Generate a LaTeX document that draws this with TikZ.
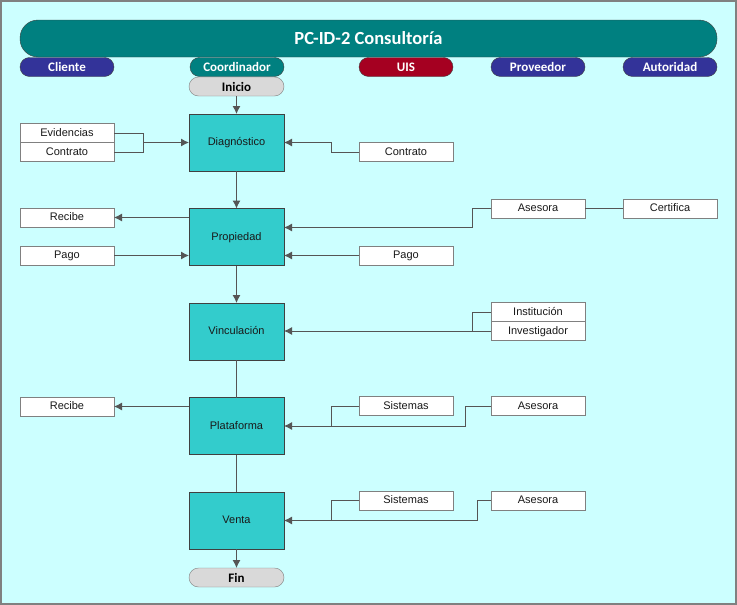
\documentclass[tikz,border=0pt]{standalone}
\usepackage{fontspec}
\setmainfont{Liberation Sans}
\newfontfamily\headfont{Carlito}
\usetikzlibrary{arrows.meta, positioning}
\definecolor{bgcyan}{HTML}{CCFFFF}
\definecolor{titleteal}{HTML}{008080}
\definecolor{procfill}{HTML}{33CCCC}
\definecolor{laneblue}{HTML}{333399}
\definecolor{lanered}{HTML}{A50021}
\definecolor{termgray}{HTML}{D9D9D9}
\definecolor{edgegray}{HTML}{404040}
\definecolor{linegray}{HTML}{555555}
\tikzstyle{block} = [rectangle, inner sep=1pt, outer sep=0pt, text=black!90, text height=8pt, text depth=2pt, font=\fontsize{11}{13}\selectfont]
\tikzstyle{process} = [block, draw=edgegray, fill=procfill, minimum width=95pt, minimum height=57pt]
\tikzstyle{data} = [block, draw=gray, fill=white, minimum width=94pt, minimum height=19pt]
\tikzstyle{lane} = [rectangle, rounded corners=9.5pt, draw=edgegray, minimum width=94pt, minimum height=19pt, inner sep=0pt, outer sep=0pt, text=white, font=\headfont\bfseries\fontsize{13}{15}\selectfont]
\tikzstyle{terminal} = [lane, fill=termgray, draw=gray, text=black, minimum width=95pt]
\tikzstyle{flow} = [-{Latex[length=8pt, width=8pt]}, draw=linegray, line width=1pt]
\tikzstyle{link} = [draw=linegray, line width=1pt]

\begin{document}
\begin{tikzpicture}[x=1pt, y=-1pt, node distance=37.5pt]
    \useasboundingbox (0,0) rectangle (737,605);
    \fill [bgcyan] (0,0) rectangle (737,605);
    \draw [gray, line width=1.5pt] (1,1) rectangle (736,604);

    % Header and lanes.
    \node (title) [lane, fill=titleteal, minimum width=697pt, minimum height=37pt, rounded corners=18pt,
        font=\headfont\bfseries\fontsize{18.5}{22}\selectfont] at (368.5,38.5) {PC-ID-2 Consultoría};
    \node (cliente) [lane, fill=laneblue] at (67,67) {Cliente};
    \node (coord) [lane, fill=titleteal] at (237,67) {Coordinador};
    \node (uis) [lane, fill=lanered] at (406,67) {UIS};
    \node (prov) [lane, fill=laneblue] at (538,67) {Proveedor};
    \node (autor) [lane, fill=laneblue] at (670,67) {Autoridad};

    % Main flow.
    \node (inicio) [terminal] at (236.5,86.5) {Inicio};
    \node (diag) [process, below=18pt of inicio] {Diagnóstico};
    \node (prop) [process, below=of diag] {Propiedad};
    \node (vinc) [process, below=of prop] {Vinculación};
    \node (plat) [process, below=of vinc] {Plataforma};
    \node (venta) [process, below=of plat] {Venta};
    \node (fin) [terminal, below=19pt of venta] {Fin};

    % Documents.
    \node (evid) [data] at (67,133) {Evidencias};
    \node (contr l) [data, below=0pt of evid] {Contrato};
    \node (contr r) [data] at (406,152) {Contrato};
    \node (recibe a) [data] at (67,217.5) {Recibe};
    \node (pago l) [data] at (67,255.5) {Pago};
    \node (ases a) [data] at (538,208.5) {Asesora};
    \node (certif) [data] at (670,208.5) {Certifica};
    \node (pago r) [data] at (406,255.5) {Pago};
    \node (inst) [data] at (538,312) {Institución};
    \node (invest) [data, below=0pt of inst] {Investigador};
    \node (recibe b) [data] at (67,406.5) {Recibe};
    \node (sist a) [data] at (406,406) {Sistemas};
    \node (ases b) [data] at (538,406) {Asesora};
    \node (sist b) [data] at (406,500.5) {Sistemas};
    \node (ases c) [data] at (538,500.5) {Asesora};
    \path (diag.west) ++(-46,0) coordinate (join d);
    \path (plat.east) ++(47,0) coordinate (join p);
    \path (venta.east) ++(47,0) coordinate (join v);

    % Arrows.
    \draw [flow] (inicio) -- (diag);
    \draw [flow] (diag) -- (prop);
    \draw [flow] (prop) -- (vinc);
    \draw [link] (vinc) -- (plat);
    \draw [link] (plat) -- (venta);
    \draw [flow] (venta) -- (fin);
    \draw [link] (evid.east) -| (join d);
    \draw [link] (contr l.east) -| (join d);
    \draw [flow] (join d) -- (diag.west);
    \draw [flow] (contr r.west) -- ++(-28,0) |- (diag.east);
    \draw [flow] (recibe a -| prop.west) -- (recibe a.east);
    \draw [flow] (pago l.east) -- (pago l -| prop.west);
    \draw [link] (ases a) -- (certif);
    \draw [flow] (ases a.west) -- ++(-19,0) |- ([yshift=9.5pt]prop.east);
    \draw [flow] (pago r.west) -- (pago r -| prop.east);
    \draw [link] (inst.west) -- ++(-19,0) |- (invest.west);
    \draw [flow] (invest.west) -- (invest -| vinc.east);
    \draw [flow] (recibe b -| plat.west) -- (recibe b.east);
    \draw [link] (ases b.west) -- ++(-26,0) |- (join p);
    \draw [flow] (sist a.west) -| (join p) -- (plat.east);
    \draw [link] (ases c.west) -- ++(-14,0) |- (join v);
    \draw [flow] (sist b.west) -| (join v) -- (venta.east);
\end{tikzpicture}
\end{document}
